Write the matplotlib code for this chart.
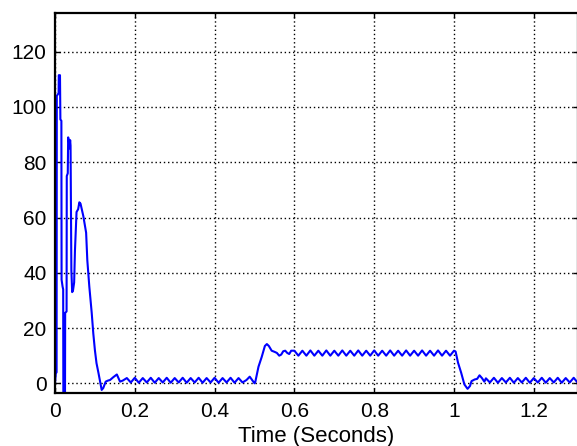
import numpy as np
import matplotlib
matplotlib.use("Agg")
import matplotlib.pyplot as plt

plt.rcParams['font.family'] = ['Liberation Sans', 'DejaVu Sans']

# ---- data (time in s, value) ----
t_start = [0.000, 0.002, 0.004, 0.0045, 0.009, 0.0095, 0.0125, 0.0135, 0.016, 0.0165,
           0.019, 0.0205, 0.021, 0.025, 0.0255, 0.029, 0.0295, 0.032, 0.033, 0.035,
           0.036, 0.038, 0.039, 0.040, 0.041, 0.043, 0.045, 0.048, 0.050, 0.054,
           0.058, 0.061, 0.064, 0.067, 0.071, 0.075, 0.078, 0.081, 0.086, 0.092,
           0.096, 0.100, 0.104, 0.109, 0.113, 0.117, 0.121, 0.127, 0.133, 0.138,
           0.146, 0.155, 0.163]
i_start = [0.0, 3.5, 4.0, 104.0, 105.0, 111.5, 111.5, 95.5, 95.0, 37.5,
           35.0, 34.0, -10.0, -10.0, 25.5, 26.0, 75.0, 76.0, 89.0, 87.5,
           85.0, 88.0, 86.0, 60.0, 41.0, 33.0, 33.5, 36.5, 48.0, 62.0,
           63.0, 65.5, 65.0, 63.0, 60.5, 57.0, 54.5, 44.5, 35.0, 25.5,
           18.0, 12.0, 7.3, 3.7, 0.6, -2.4, -1.7, 0.6, 1.0, 1.2,
           2.2, 3.2, 0.6]

t_low1 = [0.17, 0.18, 0.19, 0.20, 0.21, 0.22, 0.23, 0.24, 0.25, 0.26,
          0.27, 0.28, 0.29, 0.30, 0.31, 0.32, 0.33, 0.34, 0.35, 0.36,
          0.37, 0.38, 0.39, 0.40, 0.41, 0.42, 0.43, 0.44, 0.45, 0.46,
          0.47, 0.48, 0.488, 0.50]
i_low1 = [1.0, 1.9, 0.3, 2.0, 0.2, 1.9, 0.3, 2.0, 0.2, 1.9,
          0.3, 2.0, 0.2, 1.9, 0.3, 2.0, 0.2, 1.9, 0.3, 2.0,
          0.2, 1.9, 0.3, 2.0, 0.2, 1.9, 0.3, 2.0, 0.2, 1.9,
          0.3, 1.2, 2.4, 0.0]

t_rise = [0.502, 0.510, 0.518, 0.526, 0.531, 0.536, 0.543, 0.550, 0.556, 0.562,
          0.567, 0.572, 0.577, 0.582, 0.587, 0.592]
i_rise = [0.5, 6.0, 9.5, 13.5, 14.2, 13.5, 11.8, 11.4, 11.0, 10.0,
          10.4, 11.6, 11.8, 11.0, 10.6, 11.8]

t_high = [0.60, 0.61, 0.62, 0.63, 0.64, 0.65, 0.66, 0.67, 0.68, 0.69,
          0.70, 0.71, 0.72, 0.73, 0.74, 0.75, 0.76, 0.77, 0.78, 0.79,
          0.80, 0.81, 0.82, 0.83, 0.84, 0.85, 0.86, 0.87, 0.88, 0.89,
          0.90, 0.91, 0.92, 0.93, 0.94, 0.95, 0.96, 0.97, 0.98, 0.99,
          1.00]
i_high = [11.8, 10.0, 11.8, 10.0, 11.9, 10.0, 11.8, 10.0, 11.9, 10.0,
          11.8, 10.0, 11.9, 10.0, 11.8, 10.0, 11.9, 10.0, 11.8, 10.0,
          11.9, 10.0, 11.8, 10.0, 11.9, 10.0, 11.8, 10.0, 11.9, 10.0,
          11.8, 10.0, 11.9, 10.0, 11.8, 10.0, 11.9, 10.0, 11.8, 10.0,
          11.8]

t_fall = [1.004, 1.010, 1.018, 1.026, 1.034, 1.040, 1.044, 1.052, 1.058, 1.064,
          1.070, 1.076]
i_fall = [11.5, 7.5, 3.8, -0.4, -2.0, -1.0, 0.8, 1.4, 1.6, 2.9,
          1.9, 0.6]

t_low2 = [1.08, 1.09, 1.10, 1.11, 1.12, 1.13, 1.14, 1.15, 1.16, 1.17,
          1.18, 1.19, 1.20, 1.21, 1.22, 1.23, 1.24, 1.25, 1.26, 1.27,
          1.28, 1.29, 1.30, 1.31]
i_low2 = [1.8, 0.3, 2.0, 0.2, 1.9, 0.3, 2.0, 0.2, 1.9, 0.3,
          2.0, 0.2, 1.9, 0.3, 2.0, 0.2, 1.9, 0.3, 2.0, 0.2,
          1.9, 0.3, 2.0, 0.2]

x_ticks = [0, 0.2, 0.4, 0.6, 0.8, 1.0, 1.2]
x_tick_labels = ['0', '0.2', '0.4', '0.6', '0.8', '1', '1.2']
y_ticks = [0, 20, 40, 60, 80, 100, 120]
y_tick_labels = ['0', '20', '40', '60', '80', '100', '120']
x_label = 'Time (Seconds)'

t = np.concatenate([t_start, t_low1, t_rise, t_high, t_fall, t_low2])
i = np.concatenate([i_start, i_low1, i_rise, i_high, i_fall, i_low2])

# ---- figure ----
fig = plt.figure(figsize=(5.77, 4.46), dpi=100)
xmax = 1.31
ax = fig.add_axes([55 / 577, 1 - 392.7 / 446, xmax * 399 / 577, (392.7 - 13.3) / 446])
ax.plot(t, i, color='#0000ff', lw=1.5, clip_on=True)
ax.set_xlim(0, xmax)
ax.set_ylim(-3.4, 133.9)
ax.set_xticks(x_ticks)
ax.set_xticklabels(x_tick_labels)
ax.set_yticks(y_ticks)
ax.set_yticklabels(y_tick_labels)
ax.grid(True, color='black', linestyle=(0, (1, 2)), linewidth=1.0)
ax.tick_params(direction='in', length=3.5, width=1, labelsize=15, top=True,
               right=True, colors='black')
ax.tick_params(axis='x', pad=7)
ax.tick_params(axis='y', pad=6)
for s in ax.spines.values():
    s.set_linewidth(1.6)
ax.set_xlabel(x_label, fontsize=16, labelpad=3)
fig.savefig('out.png', dpi=100, facecolor='white')
